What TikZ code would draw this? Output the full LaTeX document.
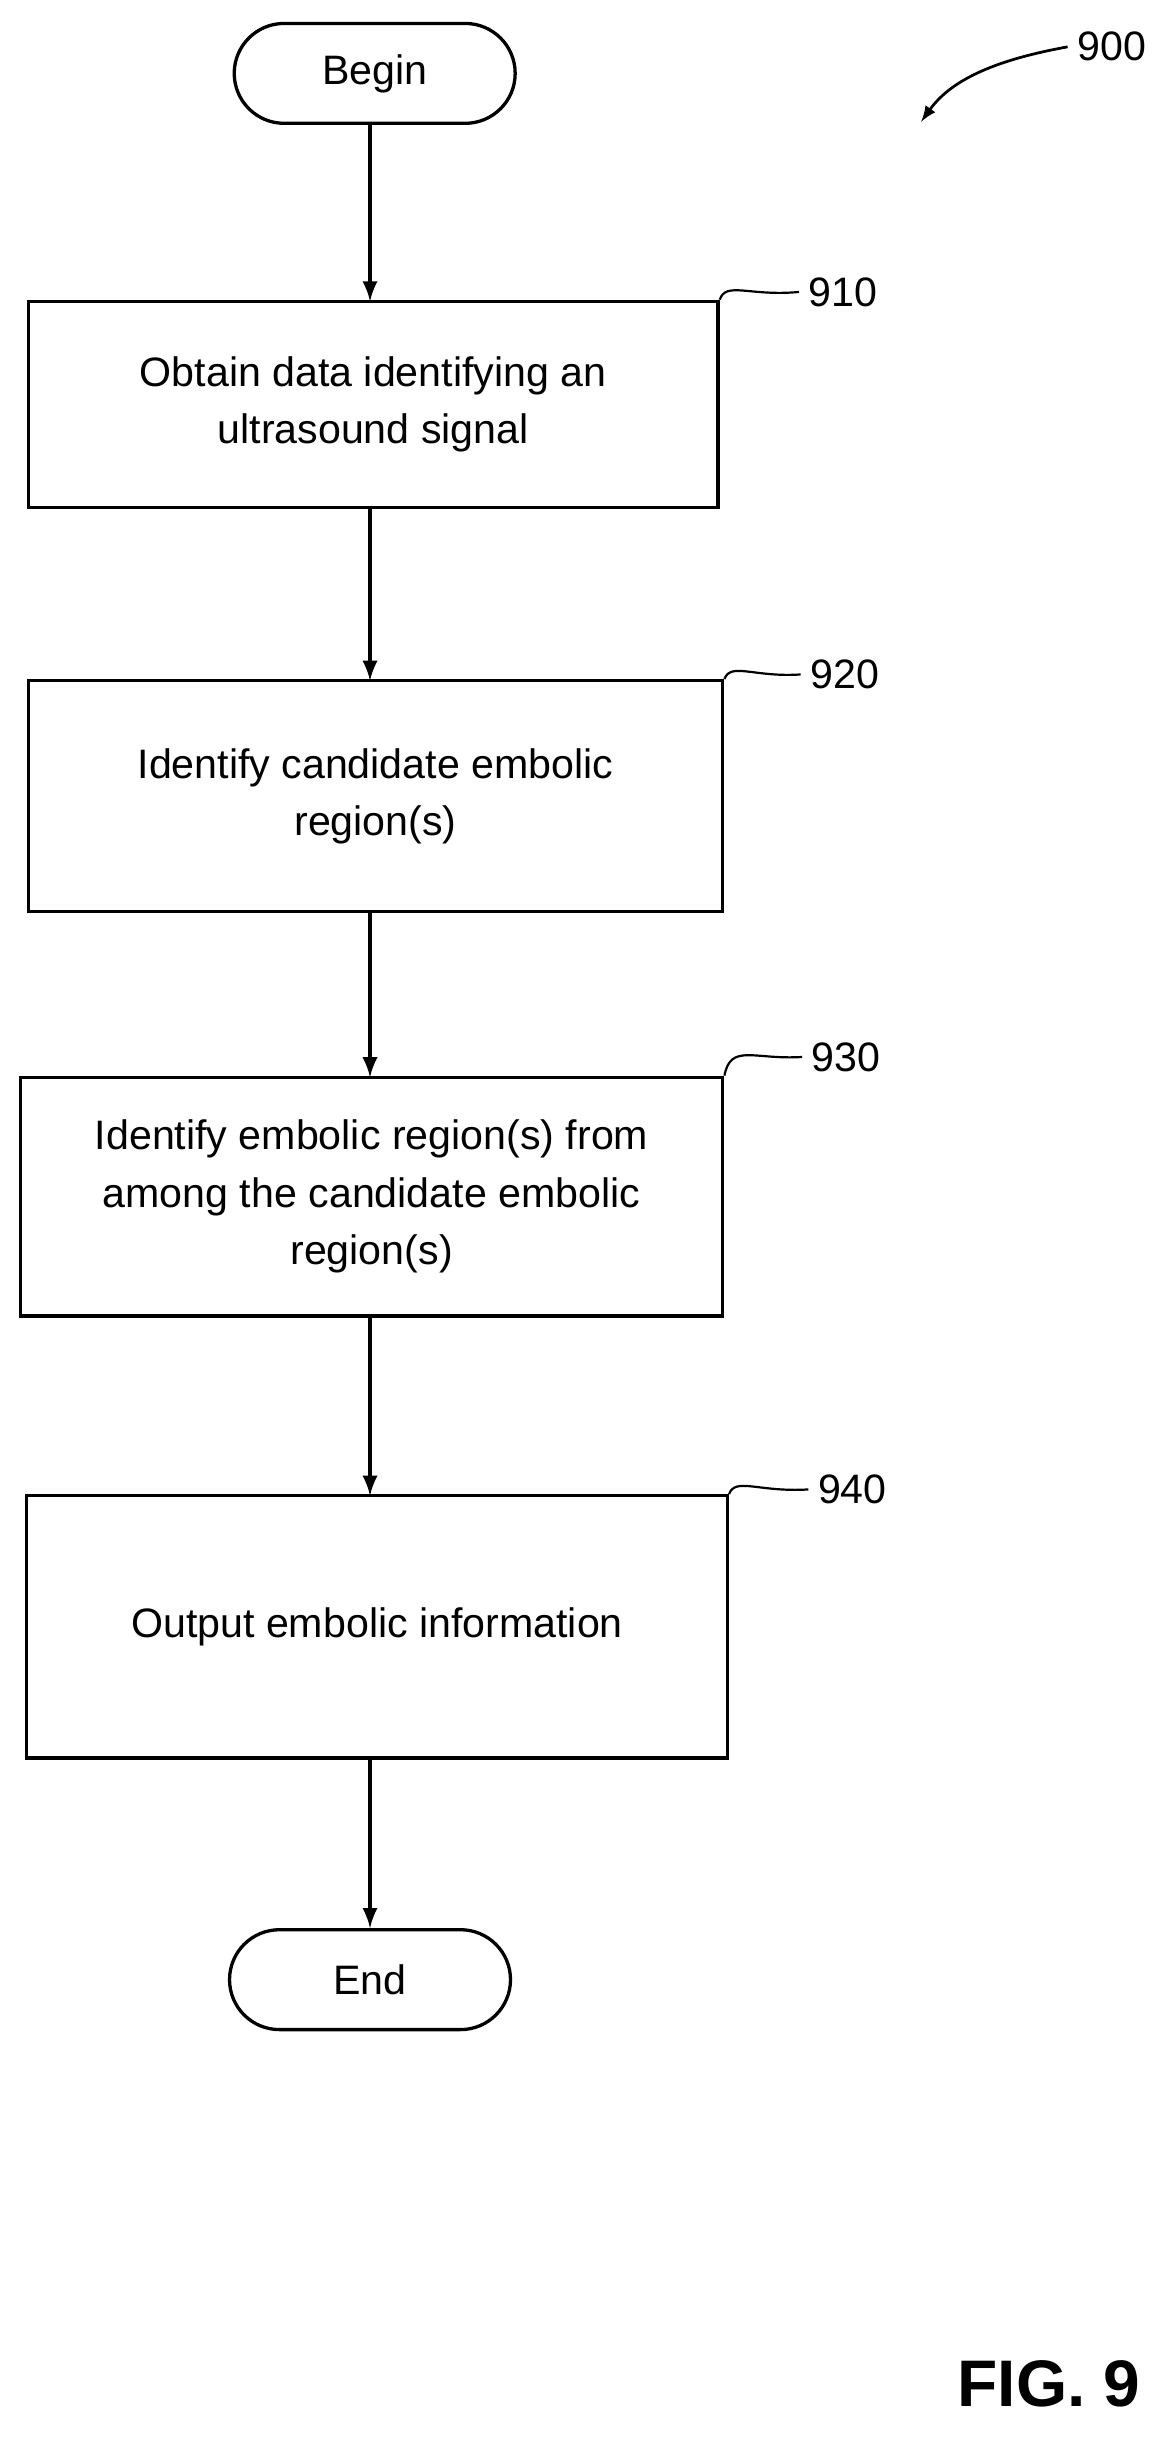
\documentclass[tikz,border=0pt]{standalone}
\usepackage{fontspec}
\setmainfont{Liberation Sans}
\usetikzlibrary{positioning}
\tikzset{
    stepbox/.style = {draw, line width=1.2pt, align=center, font=\fontsize{15pt}{21pt}\selectfont},
    term/.style    = {draw, line width=1.2pt, rounded corners=0.64cm, minimum width=3.6cm, minimum height=1.28cm, font=\fontsize{15pt}{18pt}\selectfont},
    ref/.style     = {font=\fontsize{15pt}{18pt}\selectfont},
    flow/.style    = {-latex, line width=1.5pt},
    leader/.style  = {line width=0.8pt}
}
\begin{document}
\begin{tikzpicture}[x=0.02cm, y=-0.02cm]
    \useasboundingbox (0,0) rectangle (750,1568);

    % Terminals
    \node[term] (begin) at (240, 47)   {Begin};
    \node[term] (stop)  at (237, 1268) {End};

    % Steps
    \node[stepbox, minimum width=8.84cm, minimum height=2.64cm] (s910) at (239, 259)
        {Obtain data identifying an\\ultrasound signal};
    \node[stepbox, minimum width=8.9cm, minimum height=2.96cm] (s920) at (240.5, 510)
        {Identify candidate embolic\\region(s)};
    \node[stepbox, minimum width=9.0cm, minimum height=3.06cm] (s930) at (238, 766.5)
        {Identify embolic region(s) from\\among the candidate embolic\\region(s)};
    \node[stepbox, minimum width=8.98cm, minimum height=3.36cm] (s940) at (241.5, 1042)
        {Output embolic information};

    % Flow arrows
    \draw[flow] (237,79)   -- (237,193);
    \draw[flow] (237,325)  -- (237,436);
    \draw[flow] (237,584)  -- (237,690);
    \draw[flow] (237,843)  -- (237,958);
    \draw[flow] (237,1126) -- (stop.north);

    % Reference numerals
    \node[ref] (n910) at (540, 187) {910};
    \node[ref] (n920) at (541, 432) {920};
    \node[ref] (n930) at (542, 677) {930};
    \node[ref] (n940) at (546, 954) {940};
    \node[ref] (n900) at (712, 30)  {900};

    \draw[leader] (s910.north east) .. controls (465,180) and (480,190) .. (n910.west);
    \draw[leader] (s920.north east) .. controls (468,424) and (483,434) .. (n920.west);
    \draw[leader] (s930.north east) .. controls (468,668) and (483,679) .. (n930.west);
    \draw[leader] (s940.north east) .. controls (471,946) and (486,956) .. (n940.west);
    \draw[-latex, line width=1pt] (n900.west) .. controls (640,38) and (610,50) .. (590,78);

    \node[font=\bfseries\fontsize{24pt}{28pt}\selectfont] (fig) at (672, 1527) {FIG. 9};
\end{tikzpicture}
\end{document}
